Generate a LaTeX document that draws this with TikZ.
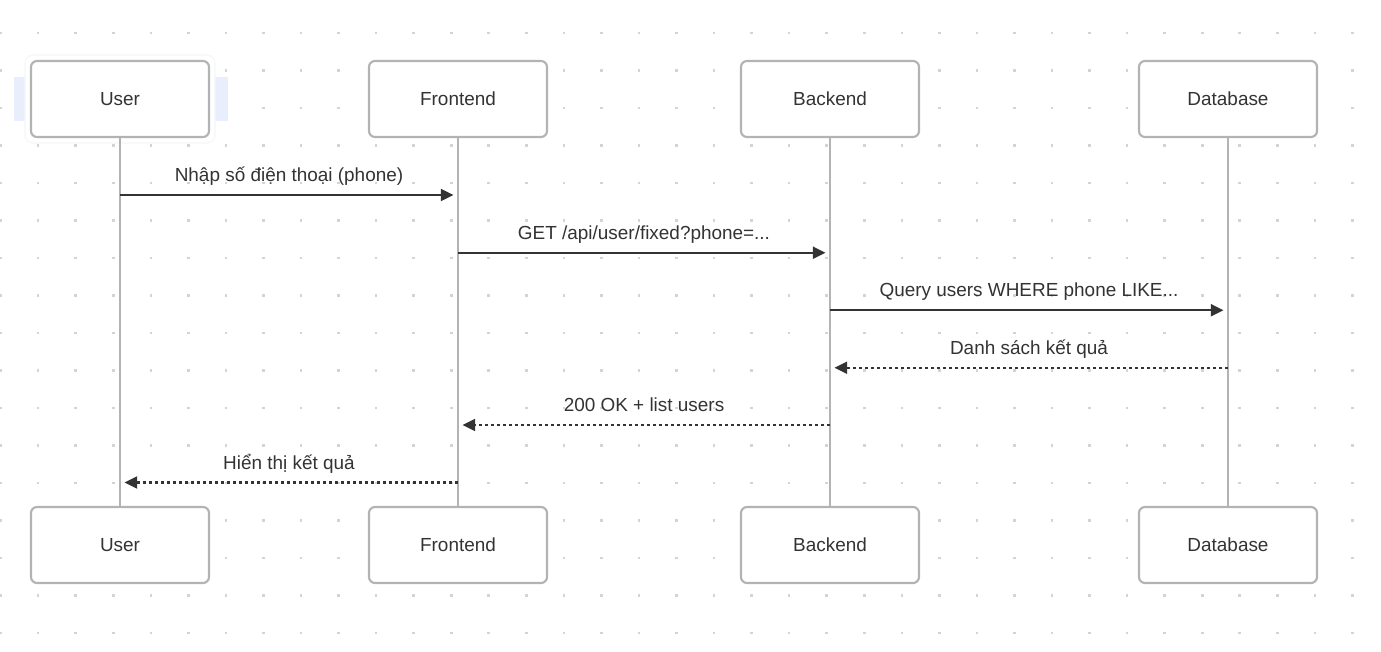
\documentclass[tikz,border=0pt]{standalone}
\usepackage{fontspec}
\setmainfont{Liberation Sans}
\usetikzlibrary{arrows.meta}
\definecolor{boxline}{HTML}{B3B3B3}
\definecolor{txt}{HTML}{333333}
\definecolor{dotc}{HTML}{D4D4D4}
\definecolor{hl}{HTML}{E8EEFC}
\definecolor{glow}{HTML}{F5F6FA}
\begin{document}
\begin{tikzpicture}[x=0.75pt,y=-0.75pt,
  actor/.style={draw=boxline,line width=1.6pt,fill=white,rounded corners=4.5pt,
    minimum width=133.5pt,minimum height=57pt,inner sep=0pt,
    font=\fontsize{14.2}{16}\selectfont,text=txt},
  lifeline/.style={draw=boxline,line width=1.6pt},
  msg/.style={draw=txt,line width=1.6pt,-{Triangle[length=9.5pt,width=9pt]},shorten >=3.4pt},
  reply/.style={msg,dash pattern=on 2.4pt off 2.1pt},
  lbl/.style={font=\fontsize{14.2}{16}\selectfont,text=txt,anchor=base,yshift=10pt,inner sep=0pt}]
\useasboundingbox (0,0) rectangle (1381,651);
\fill[white] (0,0) rectangle (1381,651);
% dot grid
\foreach \i in {0,...,36}{
  \foreach \j in {0,...,16}{
    \fill[dotc] ({0.6+37.55*\i-1.3},{33+37.5*\j-1.3}) rectangle ++(2.6,2.6);
  }
}
% highlight behind User
\fill[hl] (14,77) rectangle (228,121);
\draw[glow,line width=0.8pt,fill=white,rounded corners=6pt] (25,55) rectangle (215,143);
% actors
\node[actor] (u)  at (120,99)  {User};
\node[actor] (f)  at (458,99)  {Frontend};
\node[actor] (b)  at (830,99)  {Backend};
\node[actor] (d)  at (1228,99) {Database};
\node[actor] (ub) at (120,545)  {User};
\node[actor] (fb) at (458,545)  {Frontend};
\node[actor] (bb) at (830,545)  {Backend};
\node[actor] (db) at (1228,545) {Database};
% lifelines
\draw[lifeline] (u) -- (ub);
\draw[lifeline] (f) -- (fb);
\draw[lifeline] (b) -- (bb);
\draw[lifeline] (d) -- (db);
% message rows
\coordinate (y1) at (0,195);
\coordinate (y2) at (0,252.7);
\coordinate (y3) at (0,310.2);
\coordinate (y4) at (0,367.7);
\coordinate (y5) at (0,425);
\coordinate (y6) at (0,482.5);
\draw[msg] (u |- y1) -- node[lbl] {Nhập số điện thoại (phone)} (f |- y1);
\draw[msg] (f |- y2) -- node[lbl] {GET /api/user/fixed?phone=...} (b |- y2);
\draw[msg] (b |- y3) -- node[lbl] {Query users WHERE phone LIKE...} (d |- y3);
\draw[reply] (d |- y4) -- node[lbl] {Danh sách kết quả} (b |- y4);
\draw[reply] (b |- y5) -- node[lbl] {200 OK + list users} (f |- y5);
\draw[reply] (f |- y6) -- node[lbl] {Hiển thị kết quả} (u |- y6);
\end{tikzpicture}
\end{document}
